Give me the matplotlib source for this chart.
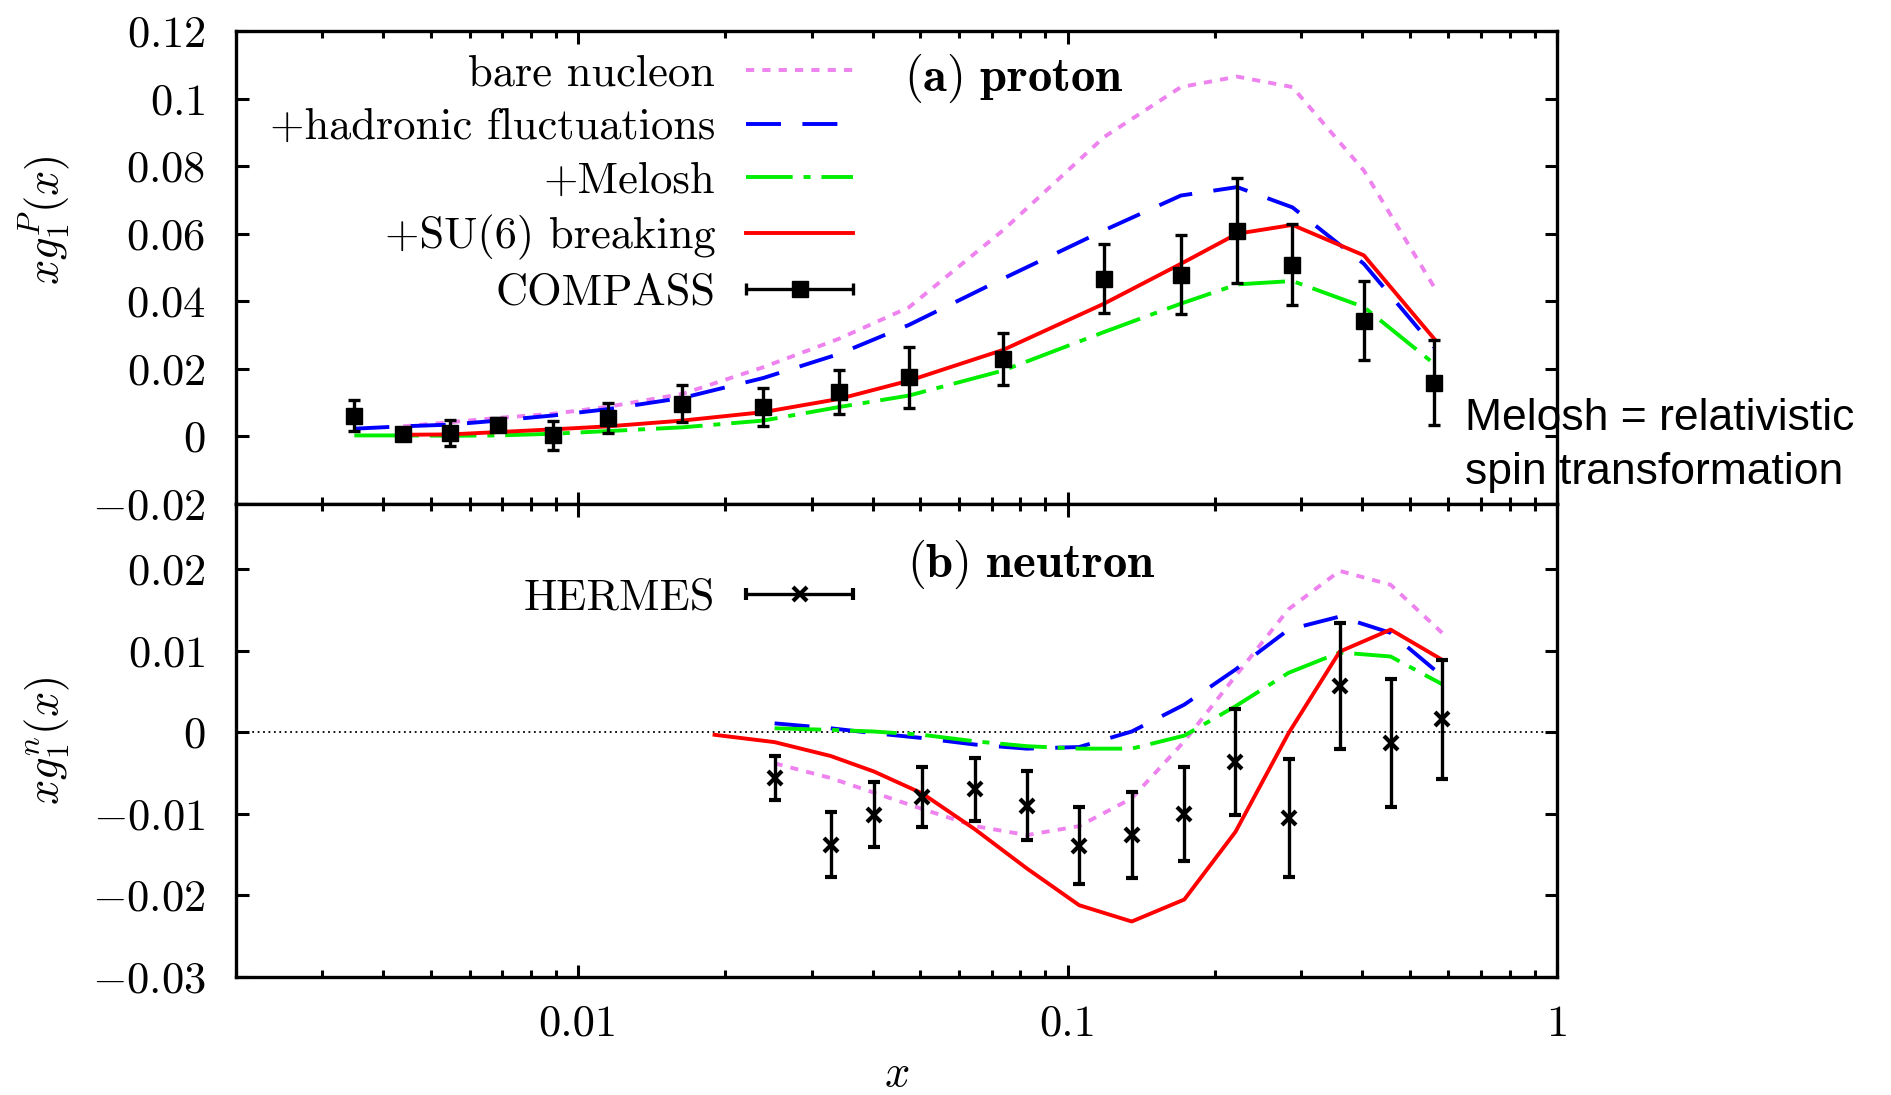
import numpy as np
import matplotlib
matplotlib.use("Agg")
import matplotlib.pyplot as plt
from matplotlib.container import ErrorbarContainer
from matplotlib.legend_handler import HandlerErrorbar
from matplotlib.ticker import FixedLocator, FixedFormatter, LogLocator, NullFormatter

plt.rcParams['mathtext.fontset'] = 'cm'
plt.rcParams['font.family'] = ['cmr10', 'DejaVu Serif']
plt.rcParams['axes.formatter.use_mathtext'] = True

# --- proton (COMPASS) ---
x_p = [0.00349, 0.00439, 0.00547, 0.00687, 0.00888, 0.01153, 0.01634, 0.0239, 0.0341,
       0.0474, 0.0738, 0.1187, 0.1704, 0.222, 0.288, 0.403, 0.561]
compass_y = [0.0062, 0.0006, 0.0010, 0.0035, 0.0003, 0.0055, 0.0097, 0.0087, 0.0131,
             0.0175, 0.0229, 0.0467, 0.0479, 0.0609, 0.0508, 0.0343, 0.0159]
compass_err = [0.0046, 0.0015, 0.0038, 0.0020, 0.0043, 0.0045, 0.0055, 0.0057, 0.0065,
               0.0090, 0.0077, 0.0103, 0.0118, 0.0156, 0.0120, 0.0118, 0.0125]
# model curves (bare and SU(6) start at second x)
bare_p = [0.0030, 0.0042, 0.0055, 0.0067, 0.0088, 0.0126, 0.0205, 0.0289, 0.0382,
          0.0610, 0.0886, 0.1034, 0.1065, 0.1034, 0.0787, 0.0442]
hadr_p = [0.0023, 0.0030, 0.0035, 0.0047, 0.0062, 0.0081, 0.0114, 0.0173, 0.0244, 0.0330,
          0.0467, 0.0610, 0.0713, 0.0738, 0.0678, 0.0511, 0.0264]
melosh_p = [0.0003, 0.0003, 0.0002, 0.0003, 0.0008, 0.0016, 0.0027, 0.0047, 0.0087, 0.0121,
            0.0195, 0.0309, 0.0393, 0.0450, 0.0460, 0.0383, 0.0215]
su6_p = [0.0005, 0.0006, 0.0013, 0.0021, 0.0030, 0.0047, 0.0072, 0.0111, 0.0165,
         0.0256, 0.0393, 0.0511, 0.0600, 0.0626, 0.0536, 0.0289]

# --- neutron (HERMES) ---
x_n = [0.0252, 0.0328, 0.0402, 0.0505, 0.0647, 0.0826, 0.1056, 0.1352, 0.1732, 0.2203,
       0.2828, 0.3597, 0.457, 0.5824]
hermes_y = [-0.0056, -0.0138, -0.0101, -0.0079, -0.0070, -0.0090, -0.0139, -0.0126,
            -0.0100, -0.0036, -0.0105, 0.0057, -0.0013, 0.0016]
hermes_err = [0.0027, 0.0040, 0.0040, 0.0037, 0.0039, 0.0042, 0.0047, 0.0053, 0.0058,
              0.0065, 0.0072, 0.0077, 0.0079, 0.0073]
bare_n = [-0.0038, -0.0056, -0.0074, -0.0094, -0.0115, -0.0126, -0.0115, -0.0081, -0.0011,
          0.0069, 0.0151, 0.0198, 0.0181, 0.0122]
hadr_n = [0.0011, 0.0005, -0.0001, -0.0007, -0.0015, -0.0020, -0.0018, 0.0001, 0.0034,
          0.0077, 0.0126, 0.0142, 0.0122, 0.0069]
melosh_n = [0.0005, 0.0003, 0.0001, -0.0003, -0.0011, -0.0017, -0.0020, -0.0020, -0.0004,
            0.0032, 0.0073, 0.0098, 0.0093, 0.0059]
x_su6_n = [0.019] + x_n
su6_n = [-0.0003, -0.0012, -0.0029, -0.0048, -0.0075, -0.0119, -0.0167, -0.0212, -0.0232,
         -0.0205, -0.0122, -0.0001, 0.0099, 0.0126, 0.0089]

xticks = [0.01, 0.1, 1]
xtick_labels = ['0.01', '0.1', '1']
yticks_p = [-0.02, 0, 0.02, 0.04, 0.06, 0.08, 0.1, 0.12]
ytick_labels_p = ['-0.02', '0', '0.02', '0.04', '0.06', '0.08', '0.1', '0.12']
yticks_n = [-0.03, -0.02, -0.01, 0, 0.01, 0.02]
ytick_labels_n = ['-0.03', '-0.02', '-0.01', '0', '0.01', '0.02']

labels = ['bare nucleon', '+hadronic fluctuations', '+Melosh', '+SU(6) breaking']

lw = 2.8
styles = [dict(color='violet', ls=(0, (2.1, 2.1))),
          dict(color='blue', ls=(0, (9, 5.5))),
          dict(color='#00ee00', ls=(0, (12, 2.8, 1.8, 2.8))),
          dict(color='red', ls='-')]
eb_kw = dict(color='k', lw=2.4, capsize=4.5, capthick=2.4)
FS = 32

fig = plt.figure(figsize=(18.91, 10.95), dpi=100)
ax1 = fig.add_axes([0.1248, 0.5397, 0.6986, 0.4320])
ax2 = fig.add_axes([0.1248, 0.1078, 0.6986, 0.4319])

# proton panel
xs_p = [x_p[1:], x_p, x_p, x_p[1:]]
for xs, ys, st, lab in zip(xs_p, [bare_p, hadr_p, melosh_p, su6_p], styles, labels):
    ax1.plot(xs, ys, lw=lw, label=lab, **st)
ax1.errorbar(x_p, compass_y, yerr=compass_err, fmt='s', ms=11, zorder=5, **eb_kw)
leg_c = ax1.errorbar([np.nan], [np.nan], xerr=[np.nan], fmt='s', ms=11, label='COMPASS', **eb_kw)

# neutron panel
ax2.axhline(0, color='k', lw=1.3, ls=(0, (1, 2)))
xs_n = [x_n, x_n, x_n, x_su6_n]
for xs, ys, st in zip(xs_n, [bare_n, hadr_n, melosh_n, su6_n], styles):
    ax2.plot(xs, ys, lw=lw, **st)
ax2.errorbar(x_n, hermes_y, yerr=hermes_err, fmt='x', ms=10, mew=3, zorder=5, **eb_kw)
leg_h = ax2.errorbar([np.nan], [np.nan], xerr=[np.nan], fmt='x', ms=10, mew=3, label='HERMES', **eb_kw)

for ax, yt, ytl, ylim in [(ax1, yticks_p, ytick_labels_p, (-0.02, 0.12)),
                          (ax2, yticks_n, ytick_labels_n, (-0.03, 0.028))]:
    ax.set_xscale('log')
    ax.set_xlim(0.002, 1)
    ax.set_ylim(*ylim)
    ax.xaxis.set_major_locator(FixedLocator(xticks))
    ax.xaxis.set_major_formatter(FixedFormatter(xtick_labels))
    ax.xaxis.set_minor_locator(LogLocator(base=10, subs=range(2, 10)))
    ax.xaxis.set_minor_formatter(NullFormatter())
    ax.yaxis.set_major_locator(FixedLocator(yt))
    ax.yaxis.set_major_formatter(FixedFormatter([r'$%s$' % s for s in ytl]))
    ax.tick_params(which='both', direction='in', top=True, right=True, width=2.2)
    ax.tick_params(which='major', length=9)
    ax.tick_params(which='minor', length=5)
    ax.tick_params(axis='x', labelsize=FS, pad=20)
    ax.tick_params(axis='y', labelsize=FS, pad=22)
    for sp in ax.spines.values():
        sp.set_linewidth(2.4)

ax1.tick_params(labelbottom=False)

ax1.set_ylabel(r'$xg_1^P(x)$', fontsize=FS)
ax1.yaxis.set_label_coords(-0.124, 0.60)
ax2.set_ylabel(r'$xg_1^n(x)$', fontsize=FS)
ax2.yaxis.set_label_coords(-0.124, 0.50)
ax2.set_xlabel(r'$x$', fontsize=FS, labelpad=7)

hmap = {ErrorbarContainer: HandlerErrorbar(xerr_size=1.2)}
leg_kw = dict(frameon=False, markerfirst=False, handlelength=2.4, handletextpad=0.7,
              borderpad=0, borderaxespad=0, loc='upper right', fontsize=FS,
              numpoints=1, handler_map=hmap)
h1, l1 = ax1.get_legend_handles_labels()
ax1.legend(h1, l1, bbox_to_anchor=(0.467, 0.950), labelspacing=0.30, **leg_kw)
ax2.legend([leg_h], ['HERMES'], bbox_to_anchor=(0.467, 0.842), **leg_kw)

ax1.text(0.506, 0.90, r'$(\mathbf{a})\ \mathbf{proton}$', transform=ax1.transAxes,
         fontsize=35, ha='left', va='center')
ax2.text(0.508, 0.873, r'$(\mathbf{b})\ \mathbf{neutron}$', transform=ax2.transAxes,
         fontsize=35, ha='left', va='center')

fig.text(1465 / 1891, 1 - 398 / 1095, 'Melosh = relativistic\nspin transformation',
         family='Liberation Sans', fontsize=32, ha='left', va='top', linespacing=1.42)

fig.savefig('out.png', dpi=100)
